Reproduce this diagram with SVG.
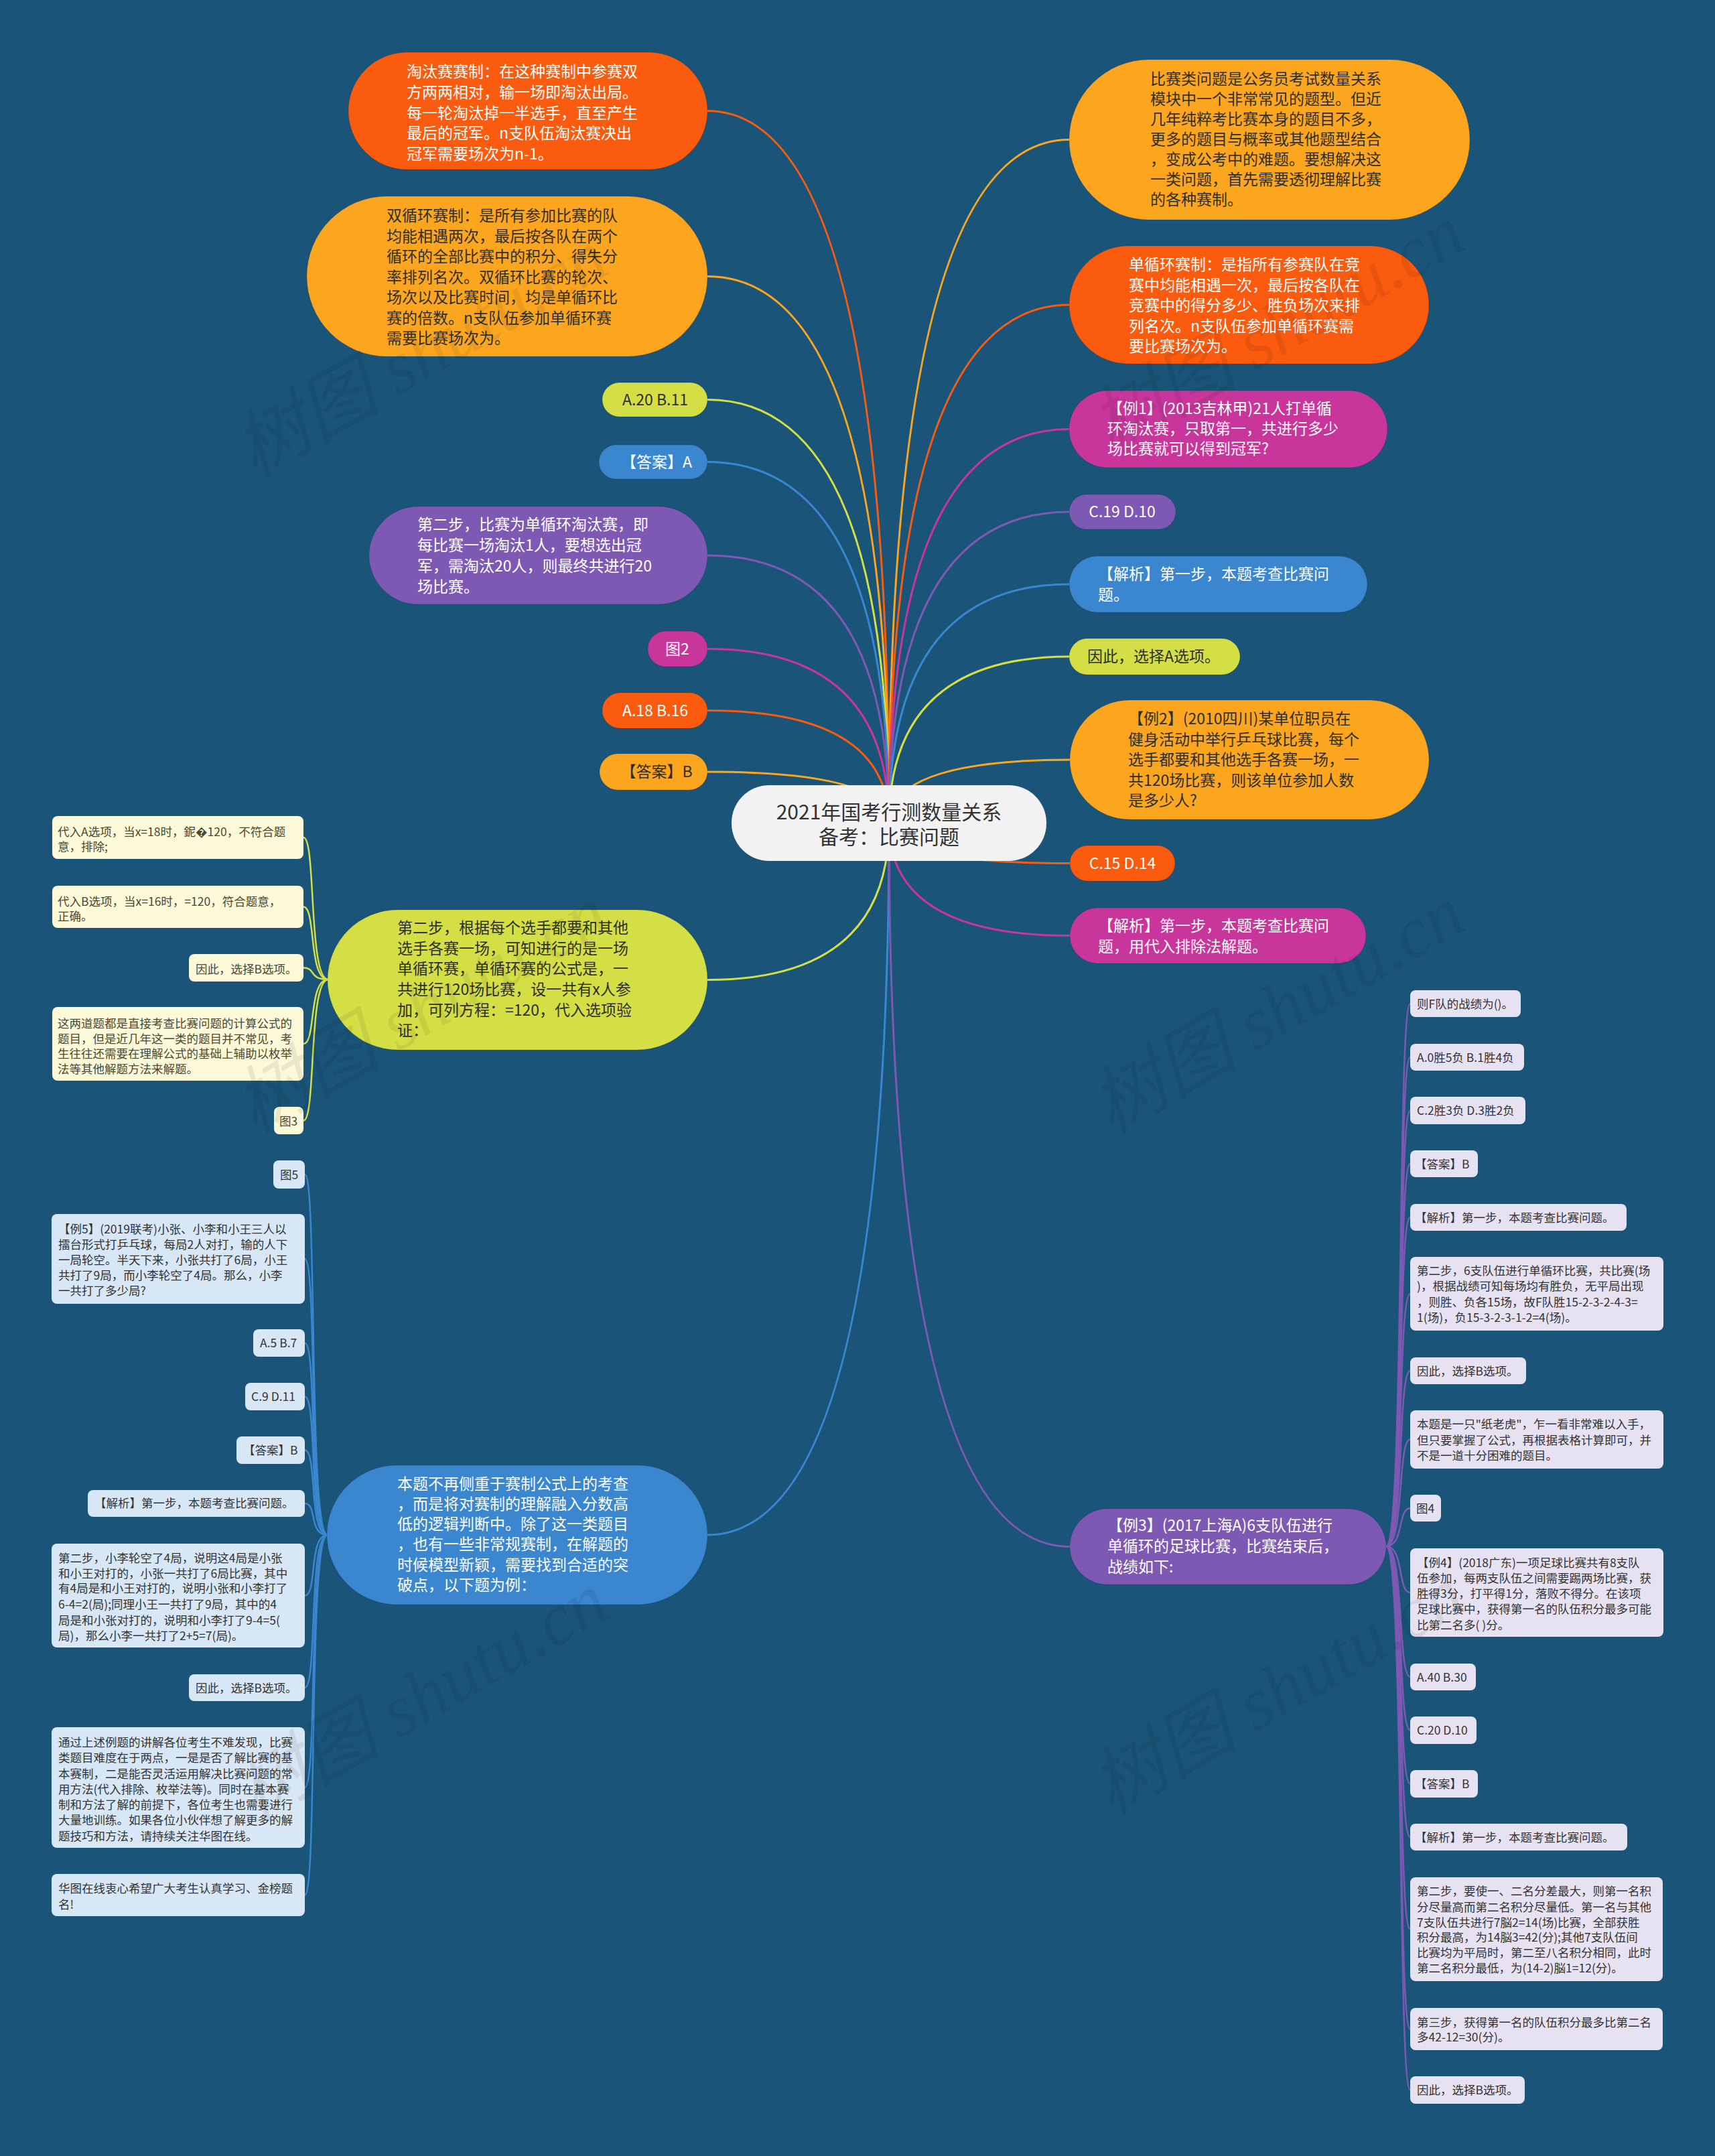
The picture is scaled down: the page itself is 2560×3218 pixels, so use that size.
<svg xmlns="http://www.w3.org/2000/svg" width="2560" height="3218" viewBox="0 0 2560 3218">
<style>
text{font-family:"Noto Sans CJK SC","Noto Sans",sans-serif;}
.m{font-size:23px;}
.s{font-size:17.5px;}
.w{fill:#ffffff;}
.d{fill:#2e2e2e;}
.c{text-anchor:middle;}
.or{fill:#fa5b0e;}
.oy{fill:#fca61f;}
.yg{fill:#d4df45;}
.bl{fill:#3a86cf;}
.pu{fill:#7e59b4;}
.mg{fill:#c9369b;}
.pill{stroke:#000;stroke-opacity:0.08;stroke-width:1.5;}
.cy{fill:#fcf9d9;}
.cb{fill:#d8e7f5;}
.cl{fill:#e7e2f2;}
.ty{fill:#4a4833;}
.tb{fill:#333333;}
.con path{fill:none;stroke-width:3;}
.sub path{fill:none;stroke-width:2.5;}
.wm{font-family:"Liberation Serif","Noto Sans CJK SC",serif;font-size:110px;font-style:italic;fill:#000;fill-opacity:0.07;}
</style>
<rect x="0" y="0" width="2560" height="3218" fill="#1a5479"/>

<g id="connectors">
<g class="con">
<path d="M1327 1229 Q1327 165.5 1056 165.5" stroke="#fa5b0e"/>
<path d="M1327 1229 Q1327 412.5 1056 412.5" stroke="#fca61f"/>
<path d="M1327 1229 Q1327 596.5 1056 596.5" stroke="#d4df45"/>
<path d="M1327 1229 Q1327 689.5 1056 689.5" stroke="#3a86cf"/>
<path d="M1327 1229 Q1327 829 1056 829" stroke="#7e59b4"/>
<path d="M1327 1229 Q1327 968.5 1056 968.5" stroke="#c9369b"/>
<path d="M1327 1229 Q1327 1060.5 1056 1060.5" stroke="#fa5b0e"/>
<path d="M1327 1229 Q1327 1152 1056 1152" stroke="#fca61f"/>
<path d="M1327 1229 Q1327 1462.5 1056 1462.5" stroke="#d4df45"/>
<path d="M1327 1229 Q1327 2291 1056 2291" stroke="#3a86cf"/>
<path d="M1327 1229 Q1327 208.5 1596 208.5" stroke="#fca61f"/>
<path d="M1327 1229 Q1327 455 1596 455" stroke="#fa5b0e"/>
<path d="M1327 1229 Q1327 640.5 1596 640.5" stroke="#c9369b"/>
<path d="M1327 1229 Q1327 764 1596 764" stroke="#7e59b4"/>
<path d="M1327 1229 Q1327 872 1596 872" stroke="#3a86cf"/>
<path d="M1327 1229 Q1327 980 1596 980" stroke="#d4df45"/>
<path d="M1327 1229 Q1327 1134 1597 1134" stroke="#fca61f"/>
<path d="M1327 1229 Q1327 1288.5 1597 1288.5" stroke="#fa5b0e"/>
<path d="M1327 1229 Q1327 1396.5 1597 1396.5" stroke="#c9369b"/>
<path d="M1327 1229 Q1327 2308.5 1597 2308.5" stroke="#7e59b4"/>
</g>
<g class="sub" stroke="#d4df45">
<path d="M490 1462 C460 1462 472 1250 453 1250"/>
<path d="M490 1462 C460 1462 472 1353.5 453 1353.5"/>
<path d="M490 1462 C460 1462 472 1444.5 453 1444.5"/>
<path d="M490 1462 C460 1462 472 1558 453 1558"/>
<path d="M490 1462 C460 1462 472 1672.5 453 1672.5"/>
</g>
<g class="sub" stroke="#3a86cf">
<path d="M489 2291 C460 2291 474 1753 455 1753"/>
<path d="M489 2291 C460 2291 474 1879 455 1879"/>
<path d="M489 2291 C460 2291 474 2004.5 455 2004.5"/>
<path d="M489 2291 C460 2291 474 2084.5 455 2084.5"/>
<path d="M489 2291 C460 2291 474 2164.5 455 2164.5"/>
<path d="M489 2291 C460 2291 474 2244 455 2244"/>
<path d="M489 2291 C460 2291 474 2381.5 455 2381.5"/>
<path d="M489 2291 C460 2291 474 2519 455 2519"/>
<path d="M489 2291 C460 2291 474 2668 455 2668"/>
<path d="M489 2291 C460 2291 474 2828.5 455 2828.5"/>
</g>
<g class="sub" stroke="#7e59b4">
<path d="M2069 2308 C2096 2308 2086 1498 2105 1498"/>
<path d="M2069 2308 C2096 2308 2086 1578 2105 1578"/>
<path d="M2069 2308 C2096 2308 2086 1657.5 2105 1657.5"/>
<path d="M2069 2308 C2096 2308 2086 1737 2105 1737"/>
<path d="M2069 2308 C2096 2308 2086 1817 2105 1817"/>
<path d="M2069 2308 C2096 2308 2086 1931 2105 1931"/>
<path d="M2069 2308 C2096 2308 2086 2046 2105 2046"/>
<path d="M2069 2308 C2096 2308 2086 2148.5 2105 2148.5"/>
<path d="M2069 2308 C2096 2308 2086 2251 2105 2251"/>
<path d="M2069 2308 C2096 2308 2086 2377 2105 2377"/>
<path d="M2069 2308 C2096 2308 2086 2503 2105 2503"/>
<path d="M2069 2308 C2096 2308 2086 2582.5 2105 2582.5"/>
<path d="M2069 2308 C2096 2308 2086 2662.5 2105 2662.5"/>
<path d="M2069 2308 C2096 2308 2086 2742 2105 2742"/>
<path d="M2069 2308 C2096 2308 2086 2879.5 2105 2879.5"/>
<path d="M2069 2308 C2096 2308 2086 3028.5 2105 3028.5"/>
<path d="M2069 2308 C2096 2308 2086 3119.5 2105 3119.5"/>
</g>
</g>

<g id="root">
<rect x="1092" y="1172" width="470" height="113" rx="56" fill="#f2f2f2"/>
<text x="1327" y="1223" class="c" font-size="30" fill="#333">2021年国考行测数量关系</text>
<text x="1327" y="1260" class="c" font-size="30" fill="#333">备考：比赛问题</text>
</g>

<g id="n-taotai">
<rect x="520" y="78" width="536" height="175" rx="87.5" class="or pill"/>
<text class="m w"><tspan x="607" y="115">淘汰赛赛制：在这种赛制中参赛双</tspan><tspan x="607" y="146">方两两相对，输一场即淘汰出局。</tspan><tspan x="607" y="177">每一轮淘汰掉一半选手，直至产生</tspan><tspan x="607" y="207">最后的冠军。n支队伍淘汰赛决出</tspan><tspan x="607" y="238">冠军需要场次为n-1。</tspan></text>
</g>
<g id="n-shuangxunhuan">
<rect x="458" y="293" width="598" height="239" rx="119.5" class="oy pill"/>
<text class="m d"><tspan x="577" y="330">双循环赛制：是所有参加比赛的队</tspan><tspan x="577" y="361">均能相遇两次，最后按各队在两个</tspan><tspan x="577" y="391">循环的全部比赛中的积分、得失分</tspan><tspan x="577" y="422">率排列名次。双循环比赛的轮次、</tspan><tspan x="577" y="452">场次以及比赛时间，均是单循环比</tspan><tspan x="577" y="483">赛的倍数。n支队伍参加单循环赛</tspan><tspan x="577" y="513">需要比赛场次为。</tspan></text>
</g>
<g id="n-a20">
<rect x="899" y="571" width="157" height="51" rx="25.5" class="yg pill"/>
<text x="978" y="605" class="m d c">A.20 B.11</text>
</g>
<g id="n-ans-a">
<rect x="894" y="664" width="162" height="51" rx="25.5" class="bl pill"/>
<text x="980" y="698" class="m w c">【答案】A</text>
</g>
<g id="n-step2-taotai">
<rect x="551" y="756" width="505" height="146" rx="73" class="pu pill"/>
<text class="m w"><tspan x="623" y="791">第二步，比赛为单循环淘汰赛，即</tspan><tspan x="623" y="822">每比赛一场淘汰1人，要想选出冠</tspan><tspan x="623" y="853">军，需淘汰20人，则最终共进行20</tspan><tspan x="623" y="884">场比赛。</tspan></text>
</g>
<g id="n-tu2">
<rect x="967" y="942" width="89" height="53" rx="26.5" class="mg pill"/>
<text x="1011" y="977" class="m w c">图2</text>
</g>
<g id="n-a18">
<rect x="899" y="1034" width="157" height="53" rx="26.5" class="or pill"/>
<text x="978" y="1069" class="m w c">A.18 B.16</text>
</g>
<g id="n-ans-b1">
<rect x="895" y="1125" width="161" height="54" rx="27" class="oy pill"/>
<text x="980" y="1160" class="m d c">【答案】B</text>
</g>
<g id="n-step2-eq">
<rect x="489" y="1358" width="567" height="209" rx="104.5" class="yg pill"/>
<text class="m d"><tspan x="593" y="1393">第二步，根据每个选手都要和其他</tspan><tspan x="593" y="1424">选手各赛一场，可知进行的是一场</tspan><tspan x="593" y="1454">单循环赛，单循环赛的公式是，一</tspan><tspan x="593" y="1485">共进行120场比赛，设一共有x人参</tspan><tspan x="593" y="1516">加，可列方程：=120，代入选项验</tspan><tspan x="593" y="1546">证：</tspan></text>
</g>
<g id="n-benti">
<rect x="488" y="2187" width="568" height="208" rx="104" class="bl pill"/>
<text class="m w"><tspan x="593" y="2223">本题不再侧重于赛制公式上的考查</tspan><tspan x="593" y="2253">，而是将对赛制的理解融入分数高</tspan><tspan x="593" y="2283">低的逻辑判断中。除了这一类题目</tspan><tspan x="593" y="2313">，也有一些非常规赛制，在解题的</tspan><tspan x="593" y="2344">时候模型新颖，需要找到合适的突</tspan><tspan x="593" y="2374">破点，以下题为例：</tspan></text>
</g>

<g id="n-intro">
<rect x="1596" y="89" width="598" height="239" rx="119.5" class="oy pill"/>
<text class="m d"><tspan x="1717" y="126">比赛类问题是公务员考试数量关系</tspan><tspan x="1717" y="156">模块中一个非常常见的题型。但近</tspan><tspan x="1717" y="186">几年纯粹考比赛本身的题目不多，</tspan><tspan x="1717" y="216">更多的题目与概率或其他题型结合</tspan><tspan x="1717" y="246">，变成公考中的难题。要想解决这</tspan><tspan x="1717" y="276">一类问题，首先需要透彻理解比赛</tspan><tspan x="1717" y="306">的各种赛制。</tspan></text>
</g>
<g id="n-danxunhuan">
<rect x="1596" y="367" width="537" height="176" rx="88" class="or pill"/>
<text class="m w"><tspan x="1685" y="403">单循环赛制：是指所有参赛队在竞</tspan><tspan x="1685" y="434">赛中均能相遇一次，最后按各队在</tspan><tspan x="1685" y="464">竞赛中的得分多少、胜负场次来排</tspan><tspan x="1685" y="495">列名次。n支队伍参加单循环赛需</tspan><tspan x="1685" y="525">要比赛场次为。</tspan></text>
</g>
<g id="n-li1">
<rect x="1596" y="583" width="475" height="115" rx="57.5" class="mg pill"/>
<text class="m w"><tspan x="1653" y="618">【例1】(2013吉林甲)21人打单循</tspan><tspan x="1653" y="648">环淘汰赛，只取第一，共进行多少</tspan><tspan x="1653" y="678">场比赛就可以得到冠军?</tspan></text>
</g>
<g id="n-c19">
<rect x="1596" y="738" width="159" height="52" rx="26" class="pu pill"/>
<text x="1675" y="772" class="m w c">C.19 D.10</text>
</g>
<g id="n-jiexi1">
<rect x="1596" y="830" width="445" height="84" rx="42" class="bl pill"/>
<text class="m w"><tspan x="1639" y="865">【解析】第一步，本题考查比赛问</tspan><tspan x="1639" y="896">题。</tspan></text>
</g>
<g id="n-choose-a">
<rect x="1596" y="953" width="255" height="54" rx="27" class="yg pill"/>
<text x="1623" y="988" class="m d">因此，选择A选项。</text>
</g>
<g id="n-li2">
<rect x="1597" y="1045" width="536" height="178" rx="89" class="oy pill"/>
<text class="m d"><tspan x="1684" y="1081">【例2】(2010四川)某单位职员在</tspan><tspan x="1684" y="1112">健身活动中举行乒乓球比赛，每个</tspan><tspan x="1684" y="1142">选手都要和其他选手各赛一场，一</tspan><tspan x="1684" y="1173">共120场比赛，则该单位参加人数</tspan><tspan x="1684" y="1203">是多少人?</tspan></text>
</g>
<g id="n-c15">
<rect x="1597" y="1262" width="157" height="53" rx="26.5" class="or pill"/>
<text x="1675.5" y="1297" class="m w c">C.15 D.14</text>
</g>
<g id="n-jiexi2">
<rect x="1597" y="1355" width="442" height="83" rx="41.5" class="mg pill"/>
<text class="m w"><tspan x="1639" y="1390">【解析】第一步，本题考查比赛问</tspan><tspan x="1639" y="1421">题，用代入排除法解题。</tspan></text>
</g>
<g id="n-li3">
<rect x="1597" y="2252" width="472" height="113" rx="56.5" class="pu pill"/>
<text class="m w"><tspan x="1653" y="2285">【例3】(2017上海A)6支队伍进行</tspan><tspan x="1653" y="2316">单循环的足球比赛，比赛结束后，</tspan><tspan x="1653" y="2347">战绩如下:</tspan></text>
</g>

<g id="y-1"><rect x="78" y="1218" width="375" height="64" rx="8" class="cy"/><text class="s ty"><tspan x="86" y="1248">代入A选项，当x=18时，鈮�120，不符合题</tspan><tspan x="86" y="1270">意，排除;</tspan></text></g>
<g id="y-2"><rect x="78" y="1322" width="375" height="63" rx="8" class="cy"/><text class="s ty"><tspan x="86" y="1352">代入B选项，当x=16时，=120，符合题意，</tspan><tspan x="86" y="1374">正确。</tspan></text></g>
<g id="y-3"><rect x="282" y="1424" width="171" height="41" rx="8" class="cy"/><text x="292" y="1453" class="s ty">因此，选择B选项。</text></g>
<g id="y-4"><rect x="78" y="1503" width="375" height="110" rx="8" class="cy"/><text class="s ty"><tspan x="86" y="1534">这两道题都是直接考查比赛问题的计算公式的</tspan><tspan x="86" y="1557">题目，但是近几年这一类的题目并不常见，考</tspan><tspan x="86" y="1579">生往往还需要在理解公式的基础上辅助以枚举</tspan><tspan x="86" y="1602">法等其他解题方法来解题。</tspan></text></g>
<g id="y-5"><rect x="409" y="1652" width="44" height="41" rx="8" class="cy"/><text x="417" y="1680" class="s ty">图3</text></g>

<g id="b-1"><rect x="408" y="1732" width="47" height="42" rx="8" class="cb"/><text x="418" y="1760" class="s tb">图5</text></g>
<g id="b-2"><rect x="77" y="1812" width="378" height="134" rx="8" class="cb"/><text class="s tb"><tspan x="87" y="1841">【例5】(2019联考)小张、小李和小王三人以</tspan><tspan x="87" y="1864">擂台形式打乒乓球，每局2人对打，输的人下</tspan><tspan x="87" y="1887">一局轮空。半天下来，小张共打了6局，小王</tspan><tspan x="87" y="1910">共打了9局，而小李轮空了4局。那么，小李</tspan><tspan x="87" y="1933">一共打了多少局?</tspan></text></g>
<g id="b-3"><rect x="378" y="1984" width="77" height="41" rx="8" class="cb"/><text x="388" y="2011" class="s tb">A.5 B.7</text></g>
<g id="b-4"><rect x="366" y="2064" width="89" height="41" rx="8" class="cb"/><text x="375" y="2091" class="s tb">C.9 D.11</text></g>
<g id="b-5"><rect x="353" y="2144" width="102" height="41" rx="8" class="cb"/><text x="363" y="2171" class="s tb">【答案】B</text></g>
<g id="b-6"><rect x="131" y="2224" width="324" height="40" rx="8" class="cb"/><text x="141" y="2250" class="s tb">【解析】第一步，本题考查比赛问题。</text></g>
<g id="b-7"><rect x="77" y="2304" width="378" height="155" rx="8" class="cb"/><text class="s tb"><tspan x="87" y="2332">第二步，小李轮空了4局，说明这4局是小张</tspan><tspan x="87" y="2355">和小王对打的，小张一共打了6局比赛，其中</tspan><tspan x="87" y="2377">有4局是和小王对打的，说明小张和小李打了</tspan><tspan x="87" y="2401">6-4=2(局);同理小王一共打了9局，其中的4</tspan><tspan x="87" y="2425">局是和小张对打的，说明和小李打了9-4=5(</tspan><tspan x="87" y="2448">局)，那么小李一共打了2+5=7(局)。</tspan></text></g>
<g id="b-8"><rect x="282" y="2499" width="173" height="40" rx="8" class="cb"/><text x="292" y="2526" class="s tb">因此，选择B选项。</text></g>
<g id="b-9"><rect x="77" y="2578" width="378" height="180" rx="8" class="cb"/><text class="s tb"><tspan x="87" y="2607">通过上述例题的讲解各位考生不难发现，比赛</tspan><tspan x="87" y="2630">类题目难度在于两点，一是是否了解比赛的基</tspan><tspan x="87" y="2654">本赛制，二是能否灵活运用解决比赛问题的常</tspan><tspan x="87" y="2677">用方法(代入排除、枚举法等)。同时在基本赛</tspan><tspan x="87" y="2700">制和方法了解的前提下，各位考生也需要进行</tspan><tspan x="87" y="2723">大量地训练。如果各位小伙伴想了解更多的解</tspan><tspan x="87" y="2747">题技巧和方法，请持续关注华图在线。</tspan></text></g>
<g id="b-10"><rect x="77" y="2797" width="378" height="63" rx="8" class="cb"/><text class="s tb"><tspan x="87" y="2825">华图在线衷心希望广大考生认真学习、金榜题</tspan><tspan x="87" y="2849">名!</tspan></text></g>

<g id="p-1"><rect x="2105" y="1478" width="165" height="40" rx="8" class="cl"/><text x="2115" y="1505" class="s tb">则F队的战绩为()。</text></g>
<g id="p-2"><rect x="2105" y="1558" width="170" height="40" rx="8" class="cl"/><text x="2115" y="1585" class="s tb">A.0胜5负 B.1胜4负</text></g>
<g id="p-3"><rect x="2105" y="1637" width="172" height="41" rx="8" class="cl"/><text x="2115" y="1664" class="s tb">C.2胜3负 D.3胜2负</text></g>
<g id="p-4"><rect x="2105" y="1717" width="101" height="40" rx="8" class="cl"/><text x="2112" y="1744" class="s tb">【答案】B</text></g>
<g id="p-5"><rect x="2105" y="1797" width="323" height="40" rx="8" class="cl"/><text x="2112" y="1824" class="s tb">【解析】第一步，本题考查比赛问题。</text></g>
<g id="p-6"><rect x="2105" y="1876" width="378" height="110" rx="8" class="cl"/><text class="s tb"><tspan x="2115" y="1903">第二步，6支队伍进行单循环比赛，共比赛(场</tspan><tspan x="2115" y="1926">)，根据战绩可知每场均有胜负，无平局出现</tspan><tspan x="2115" y="1950">，则胜、负各15场，故F队胜15-2-3-2-4-3=</tspan><tspan x="2115" y="1973">1(场)，负15-3-2-3-1-2=4(场)。</tspan></text></g>
<g id="p-7"><rect x="2105" y="2026" width="173" height="40" rx="8" class="cl"/><text x="2115" y="2053" class="s tb">因此，选择B选项。</text></g>
<g id="p-8"><rect x="2105" y="2105" width="378" height="87" rx="8" class="cl"/><text class="s tb"><tspan x="2115" y="2132">本题是一只"纸老虎"，乍一看非常难以入手，</tspan><tspan x="2115" y="2156">但只要掌握了公式，再根据表格计算即可，并</tspan><tspan x="2115" y="2179">不是一道十分困难的题目。</tspan></text></g>
<g id="p-9"><rect x="2105" y="2231" width="46" height="40" rx="8" class="cl"/><text x="2114" y="2258" class="s tb">图4</text></g>
<g id="p-10"><rect x="2105" y="2311" width="378" height="132" rx="8" class="cl"/><text class="s tb"><tspan x="2115" y="2339">【例4】(2018广东)一项足球比赛共有8支队</tspan><tspan x="2115" y="2362">伍参加，每两支队伍之间需要踢两场比赛，获</tspan><tspan x="2115" y="2385">胜得3分，打平得1分，落败不得分。在该项</tspan><tspan x="2115" y="2408">足球比赛中，获得第一名的队伍积分最多可能</tspan><tspan x="2115" y="2432">比第二名多( )分。</tspan></text></g>
<g id="p-11"><rect x="2105" y="2483" width="98" height="40" rx="8" class="cl"/><text x="2115" y="2510" class="s tb">A.40 B.30</text></g>
<g id="p-12"><rect x="2105" y="2562" width="99" height="41" rx="8" class="cl"/><text x="2115" y="2589" class="s tb">C.20 D.10</text></g>
<g id="p-13"><rect x="2105" y="2642" width="101" height="41" rx="8" class="cl"/><text x="2112" y="2669" class="s tb">【答案】B</text></g>
<g id="p-14"><rect x="2105" y="2722" width="324" height="40" rx="8" class="cl"/><text x="2112" y="2749" class="s tb">【解析】第一步，本题考查比赛问题。</text></g>
<g id="p-15"><rect x="2105" y="2802" width="377" height="155" rx="8" class="cl"/><text class="s tb"><tspan x="2115" y="2829">第二步，要使一、二名分差最大，则第一名积</tspan><tspan x="2115" y="2853">分尽量高而第二名积分尽量低。第一名与其他</tspan><tspan x="2115" y="2876">7支队伍共进行7脳2=14(场)比赛，全部获胜</tspan><tspan x="2115" y="2898">积分最高，为14脳3=42(分);其他7支队伍间</tspan><tspan x="2115" y="2921">比赛均为平局时，第二至八名积分相同，此时</tspan><tspan x="2115" y="2944">第二名积分最低，为(14-2)脳1=12(分)。</tspan></text></g>
<g id="p-16"><rect x="2105" y="2997" width="377" height="63" rx="8" class="cl"/><text class="s tb"><tspan x="2115" y="3025">第三步，获得第一名的队伍积分最多比第二名</tspan><tspan x="2115" y="3047">多42-12=30(分)。</tspan></text></g>
<g id="p-17"><rect x="2105" y="3099" width="171" height="41" rx="8" class="cl"/><text x="2115" y="3126" class="s tb">因此，选择B选项。</text></g>

<g id="watermarks">
<text class="wm c" transform="translate(647 560) rotate(-30)">树图 shutu.cn</text>
<text class="wm c" transform="translate(1926 523) rotate(-30)">树图 shutu.cn</text>
<text class="wm c" transform="translate(647 1539) rotate(-30)">树图 shutu.cn</text>
<text class="wm c" transform="translate(1926 1539) rotate(-30)">树图 shutu.cn</text>
<text class="wm c" transform="translate(647 2565) rotate(-30)">树图 shutu.cn</text>
<text class="wm c" transform="translate(1926 2555) rotate(-30)">树图 shutu.cn</text>
</g>
</svg>
